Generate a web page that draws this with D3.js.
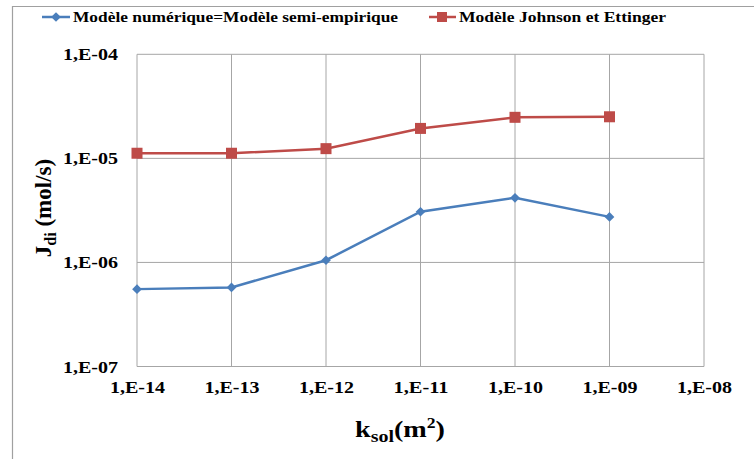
<!DOCTYPE html>
<html><head><meta charset="utf-8">
<script src="https://cdn.jsdelivr.net/npm/d3@7"></script>
<style>body{margin:0;background:#fff}svg{display:block}</style>
</head><body>
<svg id="c" width="754" height="459"></svg>
<script>
const kValues = [1e-14, 1e-13, 1e-12, 1e-11, 1e-10, 1e-9];
const xTicks = [1e-14, 1e-13, 1e-12, 1e-11, 1e-10, 1e-9, 1e-8];
const xTickLabels = ["1,E-14","1,E-13","1,E-12","1,E-11","1,E-10","1,E-09","1,E-08"];
const yTicks = [1e-7, 1e-6, 1e-5, 1e-4];
const yTickLabels = ["1,E-07","1,E-06","1,E-05","1,E-04"];
const numerique = [5.54e-7, 5.75e-7, 1.05e-6, 3.07e-6, 4.18e-6, 2.74e-6];
const johnson = [1.12e-5, 1.12e-5, 1.24e-5, 1.94e-5, 2.48e-5, 2.51e-5];
const seriesNames = ["Modèle numérique=Modèle semi-empirique", "Modèle Johnson et Ettinger"];

const FONT = "Liberation Serif";
const svg = d3.select("#c").attr("font-family", FONT).attr("font-weight", "bold");
const L = 137, R = 704, T = 54.3, B = 366.5;
const x = d3.scaleLog().domain([1e-14, 1e-8]).range([L, R]);
const y = d3.scaleLog().domain([1e-7, 1e-4]).range([B, T]);
const blue = "#4A7EBB", red = "#BE4B48", grid = "#A6A6A6";

// outer frame
svg.append("path").attr("d","M12.5,459 V6.5 H754").attr("fill","none").attr("stroke","#A0A0A0").attr("stroke-width",1.2);

// gridlines
svg.append("g").selectAll("line").data(yTicks).join("line")
  .attr("x1",L).attr("x2",R).attr("y1",d=>y(d)).attr("y2",d=>y(d))
  .attr("stroke",grid).attr("stroke-width",1);
svg.append("g").selectAll("line").data(xTicks).join("line")
  .attr("y1",T).attr("y2",B).attr("x1",d=>x(d)).attr("x2",d=>x(d))
  .attr("stroke",grid).attr("stroke-width",1);

// axes (labels only)
const yAxis = d3.axisLeft(y).tickValues(yTicks).tickFormat((d,i)=>yTickLabels[i]).tickSize(0).tickPadding(19);
const gy = svg.append("g").attr("transform",`translate(${L},0)`).call(yAxis)
  .attr("font-family", FONT).attr("font-weight","bold").attr("font-size", 17);
gy.select(".domain").remove();
gy.selectAll("text").attr("dy","5.5px").attr("fill","#000").attr("textLength",55).attr("lengthAdjust","spacingAndGlyphs");

const xAxis = d3.axisBottom(x).tickValues(xTicks).tickFormat((d,i)=>xTickLabels[i]).tickSize(0).tickPadding(0);
const gx = svg.append("g").attr("transform",`translate(0,${B})`).call(xAxis)
  .attr("font-family", FONT).attr("font-weight","bold").attr("font-size", 17);
gx.select(".domain").remove();
gx.selectAll("text").attr("dy","26.5px").attr("y",0).attr("fill","#000").attr("textLength",55).attr("lengthAdjust","spacingAndGlyphs");

// axis titles
const xt = svg.append("text").attr("x",355).attr("y",437).attr("font-size","24px");
xt.append("tspan").text("k");
xt.append("tspan").attr("font-size","17px").attr("dy",5).text("sol");
xt.append("tspan").attr("dy",-5).text("(m");
xt.append("tspan").attr("font-size","15px").attr("dy",-9).text("2");
xt.append("tspan").attr("dy",9).text(")");
xt.attr("textLength",90).attr("lengthAdjust","spacingAndGlyphs");

const yt = svg.append("text").attr("transform","translate(51,208) rotate(-90)").attr("text-anchor","middle").attr("font-size","23px");
yt.append("tspan").text("J");
yt.append("tspan").attr("font-size","16px").attr("dy",5).text("di");
yt.append("tspan").attr("dy",-5).text(" (mol/s)");

// lines
const line = d3.line().x((d,i)=>x(kValues[i])).y(d=>y(d));
svg.append("path").datum(numerique).attr("d",line).attr("fill","none").attr("stroke",blue).attr("stroke-width",2.5);
svg.append("path").datum(johnson).attr("d",line).attr("fill","none").attr("stroke",red).attr("stroke-width",2.5);

const diamond = d3.symbol().type(d3.symbolDiamond2).size(60);
svg.append("g").selectAll("path").data(numerique).join("path")
  .attr("d",diamond).attr("transform",(d,i)=>`translate(${x(kValues[i])},${y(d)})`).attr("fill",blue);
svg.append("g").selectAll("rect").data(johnson).join("rect")
  .attr("x",(d,i)=>x(kValues[i])-5.5).attr("y",d=>y(d)-5.5).attr("width",11).attr("height",11).attr("fill",red);

// legend
const lg = svg.append("g");
lg.append("line").attr("x1",42).attr("x2",70).attr("y1",17).attr("y2",17).attr("stroke",blue).attr("stroke-width",2.5);
lg.append("path").attr("d",diamond).attr("transform","translate(56,17)").attr("fill",blue);
lg.append("text").attr("x",73).attr("y",21.5).attr("font-size","15px").attr("textLength",325).attr("lengthAdjust","spacingAndGlyphs").text(seriesNames[0]);
lg.append("line").attr("x1",429).attr("x2",456).attr("y1",17).attr("y2",17).attr("stroke",red).attr("stroke-width",2.5);
lg.append("rect").attr("x",437).attr("y",12).attr("width",10).attr("height",10).attr("fill",red);
lg.append("text").attr("x",459).attr("y",21.5).attr("font-size","15px").attr("textLength",207).attr("lengthAdjust","spacingAndGlyphs").text(seriesNames[1]);
</script>
</body></html>
